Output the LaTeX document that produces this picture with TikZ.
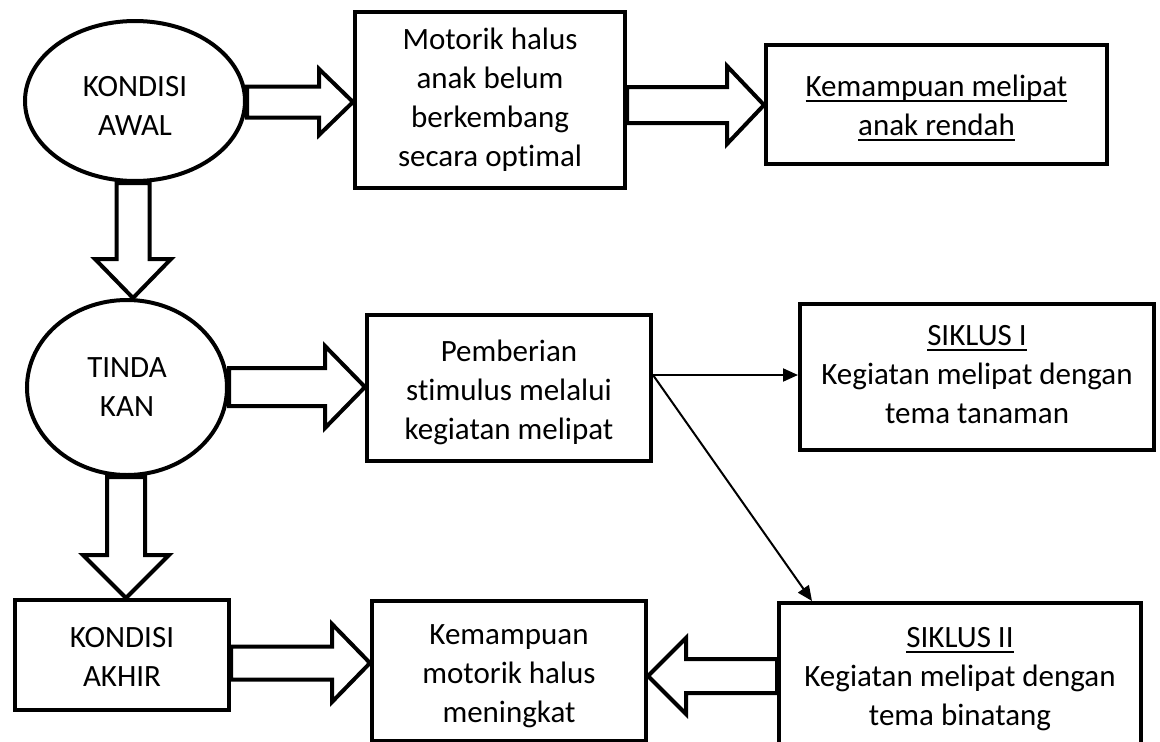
\documentclass[tikz,border=0pt]{standalone}
\usepackage{fontspec}
\setmainfont{Carlito}[Ligatures=NoCommon]
\usetikzlibrary{shapes.geometric,calc,arrows.meta}
\newsavebox\ulbox
\newcommand\mkuline[1]{\sbox\ulbox{#1}\rlap{\vrule height -3.5pt depth 5.5pt width \wd\ulbox}\usebox\ulbox}
% horizontal block arrow: #1 start anchor, #2 tip anchor, #3 centre y, #4 shaft half, #5 head half, #6 head length (signed)
\newcommand\hblk[6]{%
  \coordinate (bs) at (#1 |- 0,#3);
  \coordinate (bt) at (#2 |- 0,#3);
  \draw[blk] ($(bs)+(0,-#4)$) -- ($(bt)+(-#6,-#4)$) -- ($(bt)+(-#6,-#5)$) -- (bt)
    -- ($(bt)+(-#6,#5)$) -- ($(bt)+(-#6,#4)$) -- ($(bs)+(0,#4)$) -- cycle;}
% vertical block arrow: #1 start anchor, #2 tip anchor, #3 centre x, #4 shaft half, #5 head half, #6 head length
\newcommand\vblk[6]{%
  \coordinate (bs) at (#3,0 |- #1);
  \coordinate (bt) at (#3,0 |- #2);
  \draw[blk] ($(bs)+(-#4,0)$) -- ($(bt)+(-#4,-#6)$) -- ($(bt)+(-#5,-#6)$) -- (bt)
    -- ($(bt)+(#5,-#6)$) -- ($(bt)+(#4,-#6)$) -- ($(bs)+(#4,0)$) -- cycle;}
\begin{document}
\begin{tikzpicture}[x=1pt,y=-1pt,
  txt/.style={align=center, inner sep=0pt, font=\fontsize{31}{39}\selectfont},
  box/.style={draw, rectangle, line width=4pt, inner sep=0pt},
  oval/.style={draw, ellipse, line width=4pt, inner sep=0pt},
  blk/.style={draw, line width=4pt, fill=white, line join=miter},
  link/.style={line width=2pt, -{Triangle[length=15pt,width=13pt]}}]
\useasboundingbox (0,0) rectangle (1160,742);

\node[oval, minimum width=220pt, minimum height=160pt,
  label={[txt,yshift=-5pt]center:{KONDISI\\AWAL}}] (awal) at (135,101) {};
\node[box, minimum width=270pt, minimum height=176pt,
  label={[txt]center:{Motorik halus\\anak belum\\berkembang\\secara optimal}}] (motorik) at (490,100) {};
\node[box, minimum width=341pt, minimum height=119pt,
  label={[txt,yshift=-3pt]center:{\mkuline{Kemampuan melipat}\\\mkuline{anak rendah}}}] (rendah) at (936.5,104.5) {};
\node[oval, minimum width=200pt, minimum height=175pt,
  label={[txt]center:{TINDA\\KAN}}] (tindakan) at (127,387.5) {};
\node[box, minimum width=284pt, minimum height=146pt,
  label={[txt,yshift=-4pt]center:{Pemberian\\stimulus melalui\\kegiatan melipat}}] (pemberian) at (509,388) {};
\node[box, minimum width=354pt, minimum height=146pt,
  label={[txt,yshift=2pt]center:{\mkuline{SIKLUS I}\\Kegiatan melipat dengan\\tema tanaman}}] (siklus1) at (977,377) {};
\node[box, minimum width=214pt, minimum height=110pt,
  label={[txt,yshift=-2pt]center:{KONDISI\\AKHIR}}] (akhir) at (122,655) {};
\node[box, minimum width=274pt, minimum height=140pt,
  label={[txt,yshift=-5pt]center:{Kemampuan\\motorik halus\\meningkat}}] (meningkat) at (509,671) {};
\node[box, minimum width=362pt, minimum height=142pt,
  label={[txt,yshift=-5pt]center:{\mkuline{SIKLUS II}\\Kegiatan melipat dengan\\tema binatang}}] (siklus2) at (960,674) {};

\hblk{awal.east}{motorik.west}{102}{15.5}{33}{34}
\hblk{motorik.east}{rendah.west}{105}{18}{39}{37}
\vblk{awal.south}{tindakan.north}{133}{16.5}{38}{39}
\hblk{tindakan.east}{pemberian.west}{387}{19}{41}{40}
\vblk{tindakan.south}{akhir.north}{126}{19}{43}{43}
\hblk{akhir.east}{meningkat.west}{663}{16.5}{39}{38}
\hblk{siklus2.west}{meningkat.east}{676}{17}{38}{-38}

\draw[link] (pemberian.east |- 0,375) -- (siklus1.west |- 0,375);
\draw[link] (pemberian.east |- 0,375) -- (812,0 |- siklus2.north);
\end{tikzpicture}
\end{document}
